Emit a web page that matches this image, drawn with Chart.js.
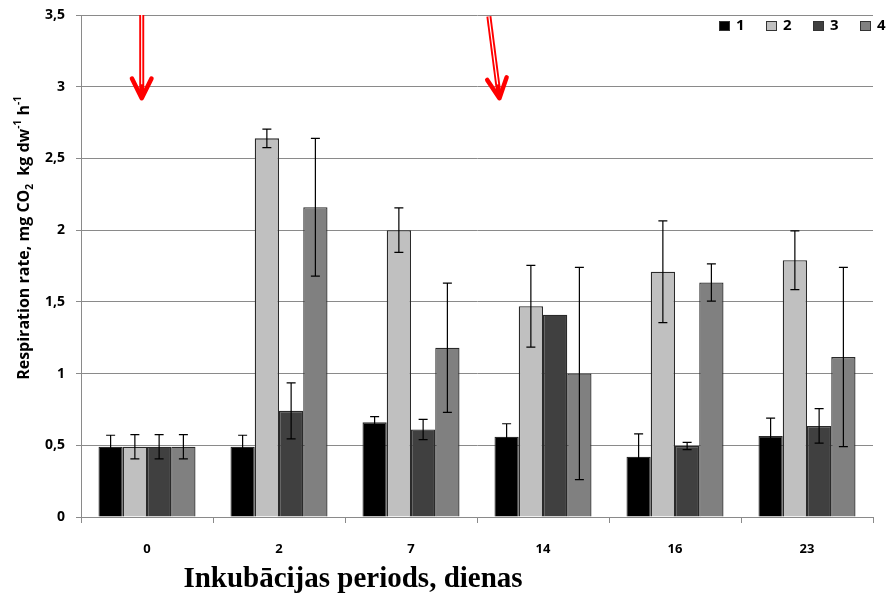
<!DOCTYPE html>
<html>
<head>
<meta charset="utf-8">
<script src="https://cdn.jsdelivr.net/npm/chart.js@4.4.0/dist/chart.umd.min.js"></script>
<style>
  html, body { margin: 0; padding: 0; background: #fff; }
  #wrap { width: 888px; height: 596px; }
</style>
</head>
<body>
<div id="wrap"><canvas id="chart_canvas" width="888" height="596"></canvas></div>
<script>
// incubation days
const categories = ['0', '2', '7', '14', '16', '23'];
const seriesNames = ['1', '2', '3', '4'];
const seriesColors = ['#000000', '#c0c0c0', '#404040', '#808080'];

const values1 = [0.49, 0.49, 0.66, 0.56, 0.42, 0.565];
const values2 = [0.49, 2.64, 2.00, 1.47, 1.71, 1.79];
const values3 = [0.49, 0.74, 0.61, 1.41, 0.495, 0.635];
const values4 = [0.49, 2.16, 1.18, 1.00, 1.635, 1.115];

// +/- error
const errors1 = [0.08, 0.08, 0.04, 0.09, 0.16, 0.125];
const errors2 = [0.085, 0.065, 0.155, 0.285, 0.355, 0.205];
const errors3 = [0.085, 0.195, 0.07, 0, 0.025, 0.12];
const errors4 = [0.085, 0.48, 0.45, 0.74, 0.13, 0.625];

const yTickLabels = ['0', '0,5', '1', '1,5', '2', '2,5', '3', '3,5'];

// red arrows: [category index, value] for tail and tip
const arrowTails = [[-0.04, 3.5], [2.59, 3.49]];
const arrowTips = [[-0.04, 2.92], [2.67, 2.92]];

const xTitle = 'Inkubācijas periods, dienas';

const allValues = [values1, values2, values3, values4];
const allErrors = [errors1, errors2, errors3, errors4];

const sansFont = '"Open Sans"';

const errorBarPlugin = {
  id: 'errorBars',
  afterDatasetsDraw(chart) {
    const ctx = chart.ctx;
    const y = chart.scales.y;
    ctx.save();
    ctx.strokeStyle = '#000';
    ctx.lineWidth = 1.2;
    chart.data.datasets.forEach((ds, i) => {
      const meta = chart.getDatasetMeta(i);
      meta.data.forEach((bar, j) => {
        const e = ds.errors[j];
        if (!e) return;
        const v = ds.data[j];
        const top = y.getPixelForValue(v + e);
        const bot = y.getPixelForValue(v - e);
        ctx.beginPath();
        ctx.moveTo(bar.x, top); ctx.lineTo(bar.x, bot);
        ctx.moveTo(bar.x - 4.5, top); ctx.lineTo(bar.x + 4.5, top);
        ctx.moveTo(bar.x - 4.5, bot); ctx.lineTo(bar.x + 4.5, bot);
        ctx.stroke();
      });
    });
    ctx.restore();
  }
};

const arrowPlugin = {
  id: 'arrows',
  afterDraw(chart) {
    const ctx = chart.ctx;
    const x = chart.scales.x, y = chart.scales.y;
    ctx.save();
    arrowTips.forEach((tip, k) => {
      const tail = arrowTails[k];
      const x0 = x.getPixelForValue(tail[0]), y0 = y.getPixelForValue(tail[1]);
      const x1 = x.getPixelForValue(tip[0]), y1 = y.getPixelForValue(tip[1]);
      const ang = Math.atan2(y1 - y0, x1 - x0);
      const ex = x1 - Math.cos(ang) * 4, ey = y1 - Math.sin(ang) * 4;
      ctx.lineCap = 'butt';
      ctx.strokeStyle = '#ff0000';
      ctx.lineWidth = 5;
      ctx.beginPath(); ctx.moveTo(x0, y0); ctx.lineTo(ex, ey); ctx.stroke();
      ctx.strokeStyle = '#ffffff';
      ctx.lineWidth = 1.2;
      ctx.beginPath(); ctx.moveTo(x0, y0); ctx.lineTo(ex - Math.cos(ang) * 10, ey - Math.sin(ang) * 10); ctx.stroke();
      // head
      ctx.strokeStyle = '#ff0000';
      ctx.lineWidth = 4.5;
      ctx.lineCap = 'round';
      ctx.lineJoin = 'round';
      const len = 22, spread = 0.46;
      ctx.beginPath();
      ctx.moveTo(x1 - Math.cos(ang - spread) * len, y1 - Math.sin(ang - spread) * len);
      ctx.lineTo(x1, y1);
      ctx.lineTo(x1 - Math.cos(ang + spread) * len, y1 - Math.sin(ang + spread) * len);
      ctx.stroke();
    });
    ctx.restore();
  }
};

const legendPlugin = {
  id: 'cornerLegend',
  afterDraw(chart) {
    const ctx = chart.ctx;
    const area = chart.chartArea;
    ctx.save();
    ctx.font = 'bold 15px ' + sansFont;
    ctx.textBaseline = 'middle';
    ctx.textAlign = 'left';
    chart.data.datasets.forEach((ds, i) => {
      const bx = area.right - 154 + i * 47;
      const by = 21;
      ctx.fillStyle = ds.backgroundColor;
      ctx.fillRect(bx, by, 11, 10);
      ctx.strokeStyle = '#333';
      ctx.lineWidth = 1;
      ctx.strokeRect(bx + 0.5, by + 0.5, 10, 9);
      ctx.fillStyle = '#000';
      ctx.fillText(ds.label, bx + 17, by + 5);
    });
    ctx.restore();
  }
};

const titlePlugin = {
  id: 'axisTitles',
  afterDraw(chart) {
    const ctx = chart.ctx;
    ctx.save();
    // y title, rotated, with sub/superscripts
    const parts = [
      {t: 'Respiration rate, mg CO', s: 0},
      {t: '2', s: 1},
      {t: '  kg dw', s: 0},
      {t: '-1', s: -1},
      {t: ' h', s: 0},
      {t: '-1', s: -1}
    ];
    const big = 'bold 16px ' + sansFont, small = 'bold 10px ' + sansFont;
    let total = 0;
    parts.forEach(p => { ctx.font = p.s ? small : big; total += ctx.measureText(p.t).width; });
    ctx.translate(24, 238);
    ctx.rotate(-Math.PI / 2);
    ctx.fillStyle = '#000';
    ctx.textBaseline = 'middle';
    ctx.textAlign = 'left';
    let cx = -total / 2;
    parts.forEach(p => {
      ctx.font = p.s ? small : big;
      ctx.fillText(p.t, cx, p.s * 6);
      cx += ctx.measureText(p.t).width;
    });
    ctx.setTransform(1, 0, 0, 1, 0, 0);
    // x title
    ctx.font = 'bold 29px "Liberation Serif"';
    ctx.textAlign = 'center';
    ctx.textBaseline = 'middle';
    ctx.fillText(xTitle, 353, 580);
    ctx.restore();
  }
};

const datasets = seriesNames.map((name, i) => ({
  label: name,
  data: allValues[i],
  errors: allErrors[i],
  backgroundColor: seriesColors[i],
  borderColor: '#2a2a2a',
  borderWidth: 1.3,
  categoryPercentage: 0.735,
  barPercentage: 1
}));

const ctx = document.getElementById('chart_canvas');
const chart = new Chart(ctx, { // eslint-disable-line no-unused-vars
  type: 'bar',
  data: { labels: categories, datasets: datasets },
  options: {
    responsive: false,
    animation: false,
    layout: { padding: { top: 15, right: 15, bottom: 0, left: 0 } },
    plugins: {
      legend: { display: false },
      tooltip: { enabled: false }
    },
    scales: {
      x: {
        offset: true,
        afterFit: (s) => { s.height = 79; s.paddingLeft = 0; s.paddingRight = 0; },
        grid: { offset: true, drawOnChartArea: false, drawTicks: true, tickLength: 6, color: '#8a8a8a' },
        border: { color: '#8a8a8a' },
        ticks: { color: '#000', padding: 18, font: { family: 'Open Sans', size: 13, weight: 'bold' } }
      },
      y: {
        min: 0,
        max: 3.5,
        afterFit: (s) => { s.width = 81; s.paddingTop = 0; s.paddingBottom = 0; },
        grid: { color: '#8a8a8a', tickLength: 5 },
        border: { color: '#8a8a8a' },
        ticks: {
          stepSize: 0.5,
          padding: 11,
          color: '#000',
          font: { family: 'Open Sans', size: 14, weight: 'bold' },
          callback: (v, idx) => yTickLabels[idx]
        }
      }
    }
  },
  plugins: [errorBarPlugin, arrowPlugin, legendPlugin, titlePlugin]
});
</script>
</body>
</html>
